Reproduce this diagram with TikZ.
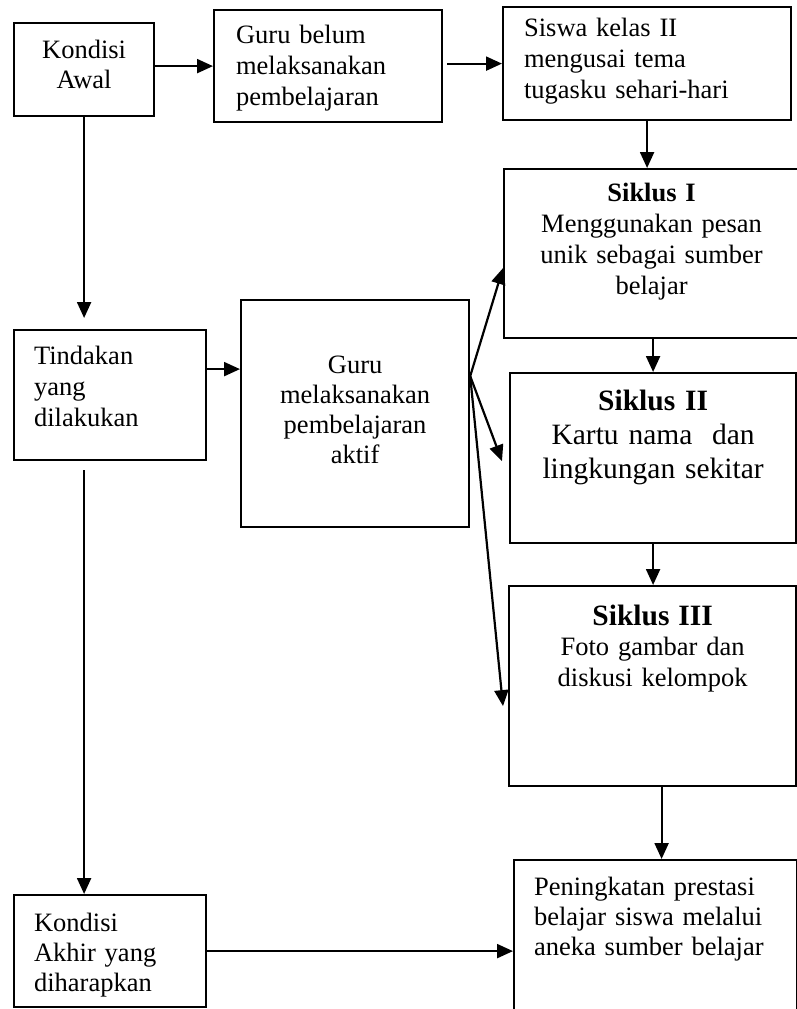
\documentclass[tikz,border=0pt]{standalone}
\usepackage{fontspec}
\setmainfont{Liberation Serif}
\usetikzlibrary{arrows.meta}

\begin{document}
\begin{tikzpicture}[x=0.5pt,y=-0.5pt,
  box/.style={draw,line width=1.1pt,anchor=north west,inner ysep=0pt,inner xsep=2pt,
    font=\fontsize{13.25pt}{15pt}\selectfont},
  arrow/.style={line width=1.1pt,-{Triangle[length=8pt,width=7pt]}}]

\useasboundingbox (0,0) rectangle (797,1009);

\node[box,text width=66pt,align=center,text height=17.5pt,text depth=29pt] (awal) at (13,22) {Kondisi\\Awal};
\node[box,inner xsep=11pt,text width=92pt,align=left,text height=16.5pt,text depth=39.5pt,
  font=\fontsize{13.25pt}{15.5pt}\selectfont] (belum) at (213,9)
  {Guru belum\\melaksanakan\\pembelajaran};
\node[box,inner xsep=10.5pt,text width=123pt,align=left,text height=14.5pt,text depth=42pt,
  font=\fontsize{13.25pt}{15.5pt}\selectfont] (siswa) at (502,6)
  {Siswa kelas II\\mengusai tema\\tugasku sehari-hari};

\node[box,text width=143.5pt,align=center,text height=16pt,text depth=68.5pt,
  font=\fontsize{13.25pt}{15.5pt}\selectfont] (siklusa) at (503,168)
  {\textbf{Siklus I}\\Menggunakan pesan\\unik sebagai sumber\\belajar};
\node[box,text width=139pt,align=center,text height=18.5pt,text depth=66.5pt,
  font=\fontsize{14.75pt}{17pt}\selectfont] (siklusb) at (509,372)
  {\textbf{Siklus II}\\Kartu nama\ \ dan\\lingkungan sekitar};
\node[box,text width=139.5pt,align=center,text height=19.5pt,text depth=80.5pt,
  font=\fontsize{13.25pt}{15.25pt}\selectfont] (siklusc) at (508,585)
  {{\fontsize{14.75pt}{17pt}\selectfont\textbf{Siklus III}}\\Foto gambar dan\\diskusi kelompok};

\node[box,inner xsep=10pt,text width=76pt,align=left,text height=17pt,text depth=48pt,
  font=\fontsize{13.25pt}{15.5pt}\selectfont] (tindakan) at (13,329) {Tindakan\\yang\\dilakukan};
\node[box,text width=110pt,align=center,text height=36.5pt,text depth=77pt] (aktif) at (240,299)
  {Guru\\melaksanakan\\pembelajaran\\aktif};

\node[box,inner xsep=10pt,text width=76pt,align=left,text height=18pt,text depth=38pt] (akhir) at (13,894)
  {Kondisi\\Akhir yang\\diharapkan};
\node[box,inner xsep=10pt,text width=121.5pt,align=left,text height=17.5pt,text depth=68pt] (hasil) at (513,859)
  {Peningkatan prestasi\\belajar siswa melalui\\aneka sumber belajar};

\coordinate (fan) at ([yshift=18.75pt]aktif.east);

\draw[arrow] (awal.east |- belum.west) -- (belum.west);
\draw[arrow] ([xshift=2pt]belum.east |- siswa.west) -- (siswa.west);
\draw[arrow] (siswa.south) -- (siswa.south |- siklusa.north);
\draw[arrow] (siklusb.north |- siklusa.south) -- (siklusb.north);
\draw[arrow] (siklusb.south) -- (siklusb.south |- siklusc.north);
\draw[arrow] ([xshift=4.5pt]siklusc.south) -- ([xshift=4.5pt]siklusc.south |- hasil.north);

\draw[arrow] (awal.south) -- ([yshift=5.5pt]awal.south |- tindakan.north);
\draw[arrow] ([yshift=13pt]tindakan.east) -- ([yshift=13pt]tindakan.east -| aktif.west);
\draw[arrow] ([yshift=-4.5pt]awal.south |- tindakan.south) -- (awal.south |- akhir.north);
\draw[arrow] (akhir.east) -- (akhir.east -| hasil.west);

\draw[arrow] (fan) -- ([yshift=-7.25pt]siklusa.west);
\draw[arrow] (fan) -- ([xshift=-3.5pt,yshift=-1.5pt]siklusb.west);
\draw[arrow] (fan) -- ([xshift=-2.5pt,yshift=-10pt]siklusc.west);

\end{tikzpicture}
\end{document}
